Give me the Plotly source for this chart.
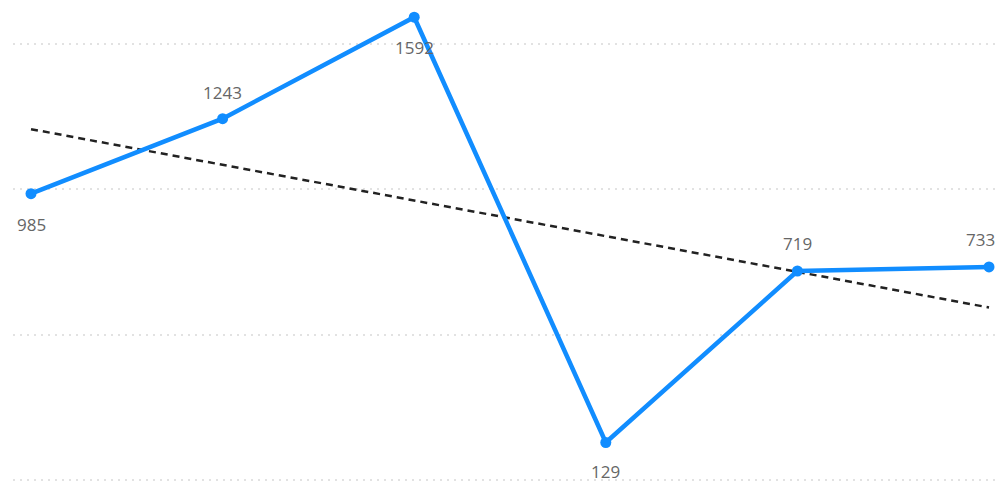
import numpy as np
import plotly.graph_objects as go

categories = [0, 1, 2, 3, 4, 5]
values = [985, 1243, 1592, 129, 719, 733]
label_dy = [-31, 26, -30, -29, 27, 27]
label_dx = [0, 0, 0, 0, 0, -9]

# linear trend line (least squares)
slope, intercept = np.polyfit(categories, values, 1)
trend = [slope * c + intercept for c in categories]

fig = go.Figure()
fig.add_trace(go.Scatter(
    x=categories, y=trend, mode="lines",
    line=dict(color="#222222", width=2.5, dash="7px,5px"),
    hoverinfo="skip", showlegend=False,
))
fig.add_trace(go.Scatter(
    x=categories, y=values, mode="lines+markers",
    line=dict(color="#118DFF", width=4.5),
    marker=dict(color="#118DFF", size=11),
    cliponaxis=False, showlegend=False,
))

for c, v, dy, dx in zip(categories, values, label_dy, label_dx):
    fig.add_annotation(
        x=c, y=v, text=str(v), showarrow=False,
        yshift=dy, xshift=dx, borderpad=0,
        font=dict(family="Open Sans, DejaVu Sans", size=17, color="#666666"),
    )

fig.update_layout(
    width=995, height=475,
    margin=dict(l=5, r=0, t=0, b=0),
    paper_bgcolor="white", plot_bgcolor="white",
    xaxis=dict(range=[-0.094, 5.073], visible=False, showgrid=False, zeroline=False),
    yaxis=dict(range=[-10.3, 1623.7], tickvals=[0, 500, 1000, 1500],
               showticklabels=False, showgrid=True, gridcolor="#E2E2E2",
               griddash="2px,5px", gridwidth=2, zeroline=False, showline=False, ticks=""),
)

fig.write_html("out.html")
